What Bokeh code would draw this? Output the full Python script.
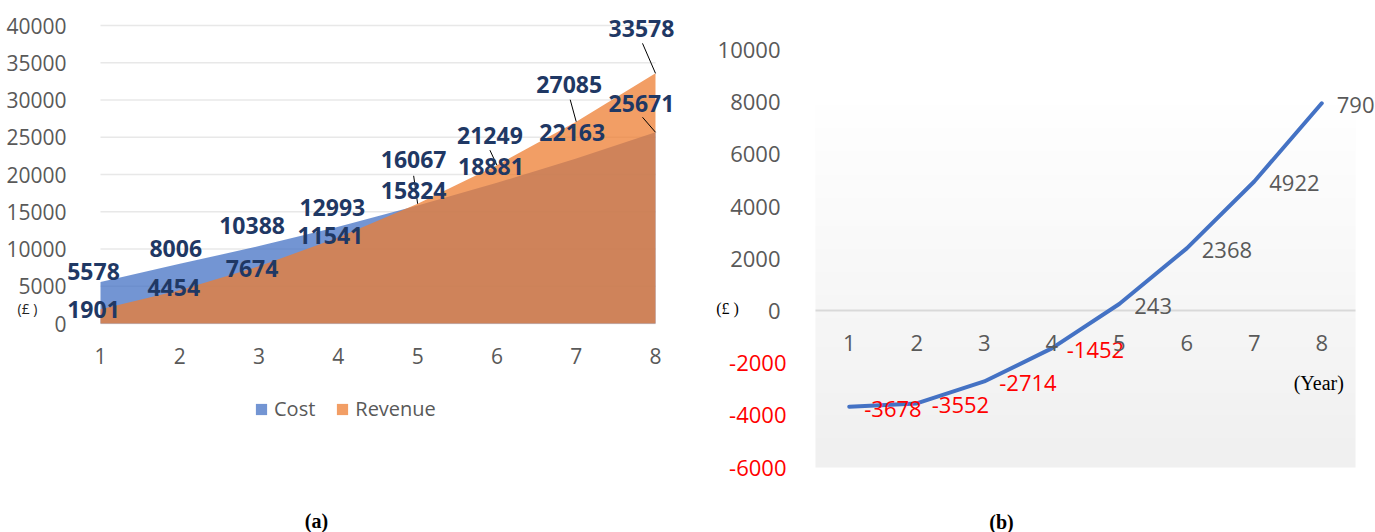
import numpy as np
from bokeh.plotting import figure
from bokeh.models import (ColumnDataSource, LabelSet, Label, Legend, LegendItem,
                          FixedTicker, Range1d)
from bokeh.core.properties import value
from bokeh.layouts import row
from bokeh.embed import file_html
from bokeh.resources import INLINE

# ---------------- data ----------------
years = [1, 2, 3, 4, 5, 6, 7, 8]
cost = [5578, 8006, 10388, 12993, 15824, 18881, 22163, 25671]
revenue = [1901, 4454, 7674, 11541, 16067, 21249, 27085, 33578]
net_profit = [-3678, -3552, -2714, -1452, 243, 2368, 4922, 7907]
a_yticks = [0, 5000, 10000, 15000, 20000, 25000, 30000, 35000, 40000]
b_yticks = [-6000, -4000, -2000, 0, 2000, 4000, 6000, 8000, 10000]
series_names = ["Cost", "Revenue"]

GRAY = "#595959"
NAVY = "#1F3864"
FONT = "Open Sans"
SERIF = "Liberation Serif"
H = 532

# ---------------- panel (a) geometry (pixels inside the figure) ----------------
A_W = 708
A_X0_PX, A_X1_PX = 100, 655     # where x = 1 and x = 8 fall
A_Y0_PX, A_Y1_PX = 323, 25      # where y = 0 and y = 40000 fall (from top)
ax_u = (years[-1] - years[0]) / (A_X1_PX - A_X0_PX)
ay_u = (a_yticks[-1] - a_yticks[0]) / (A_Y0_PX - A_Y1_PX)
a_xr = Range1d(years[0] - A_X0_PX * ax_u, years[-1] + (A_W - A_X1_PX) * ax_u)
a_yr = Range1d(a_yticks[0] - (H - A_Y0_PX) * ay_u, a_yticks[-1] + A_Y1_PX * ay_u)

pa = figure(width=A_W, height=H, min_border=0, x_range=a_xr, y_range=a_yr,
            output_backend="svg", toolbar_location=None, tools="")
pa.outline_line_color = None
pa.background_fill_color = "white"
pa.border_fill_color = "white"
pa.xgrid.visible = False
pa.ygrid.visible = False

# gridlines spanning the category extent only
pa.segment(x0=[years[0]] * len(a_yticks), y0=a_yticks, x1=[years[-1]] * len(a_yticks),
           y1=a_yticks, line_color="#e8e8e8", line_width=1.5)

src_a = ColumnDataSource(dict(x=years, cost=cost, revenue=revenue))
r_cost = pa.varea(x="x", y1=0, y2="cost", source=src_a, fill_color="#4472C4", fill_alpha=0.75)
r_rev = pa.varea(x="x", y1=0, y2="revenue", source=src_a, fill_color="#ED7D31", fill_alpha=0.75)

pa.xaxis.ticker = FixedTicker(ticks=years)
pa.yaxis.ticker = FixedTicker(ticks=a_yticks)
pa.xaxis.fixed_location = a_yticks[0]
pa.yaxis.fixed_location = years[0]
for ax in (pa.xaxis[0], pa.yaxis[0]):
    ax.axis_line_color = None
    ax.major_tick_line_color = None
    ax.minor_tick_line_color = None
    ax.major_label_text_font = FONT
    ax.major_label_text_font_size = "21px"
    ax.major_label_text_color = GRAY
pa.xaxis.major_label_standoff = 18
pa.yaxis.major_label_standoff = 28

# data labels: pixel offsets from each point
cost_dx = [-7, -4, -7, -6, -4, -6, -4, -14]
cost_dy = [10, 15, 21, 19, 15, 16, 26, 29]
rev_dx = [-7, -6, -7, -8, -4, -7, -7, -14]
rev_dy = [0, 3, -2, 2, 44, 30, 37, 45]

# leader lines (start offset in px from the point)
lead = [("rev", 4, -4, 28), ("rev", 5, -7, 15), ("rev", 6, -6, 22),
        ("rev", 7, -13, 30), ("cost", 7, -13, 15)]
lx0, ly0, lx1, ly1 = [], [], [], []
for s, i, dx, dy in lead:
    v = revenue[i] if s == "rev" else cost[i]
    lx1.append(years[i]); ly1.append(v)
    lx0.append(years[i] + dx * ax_u); ly0.append(v + dy * ay_u)
pa.segment(x0=lx0, y0=ly0, x1=lx1, y1=ly1, line_color="black", line_width=1)

lab_cost = ColumnDataSource(dict(x=years, y=cost, t=[str(v) for v in cost], dx=cost_dx, dy=cost_dy))
lab_rev = ColumnDataSource(dict(x=years, y=revenue, t=[str(v) for v in revenue], dx=rev_dx, dy=rev_dy))
for s in (lab_cost, lab_rev):
    pa.add_layout(LabelSet(x="x", y="y", text="t", x_offset="dx", y_offset="dy", source=s,
                           text_align="center", text_baseline="middle",
                           text_font=value(FONT), text_font_size=value("23px"),
                           text_font_style="bold", text_color=NAVY))

LEG_LEFT_PX, LEG_MID_PX, LEG_H = 254, 409, 26
legend = Legend(items=[LegendItem(label=series_names[0], renderers=[r_cost]),
                       LegendItem(label=series_names[1], renderers=[r_rev])],
                orientation="horizontal",
                location=(LEG_LEFT_PX, H - LEG_MID_PX - LEG_H // 2),
                glyph_width=14, glyph_height=14, label_standoff=6, spacing=20,
                padding=0, margin=0, border_line_color=None, background_fill_alpha=0,
                label_text_font=FONT, label_text_font_size="20px", label_text_color=GRAY)
pa.add_layout(legend)

pa.add_layout(Label(x=years[0], y=0, x_offset=-73, y_offset=15, text="(£ )",
                    text_align="center", text_baseline="middle",
                    text_font=FONT, text_font_size="14px", text_color="#222222"))
pa.add_layout(Label(x=years[0], y=0, x_offset=216, y_offset=-197, text="(a)",
                    text_align="center", text_baseline="middle",
                    text_font=SERIF, text_font_size="20px", text_font_style="bold",
                    text_color="black"))

# ---------------- panel (b) geometry ----------------
B_W = 667
B_L_PX, B_R_PX = 107, 647        # where x = 0.5 and x = 8.5 fall
B_T_PX, B_B_PX = 48, 467         # where y = 10000 and y = -6000 fall
B_XL, B_XR = 0.5, 8.5
B_BG_TOP = 8000
bx_u = (B_XR - B_XL) / (B_R_PX - B_L_PX)
by_u = (b_yticks[-1] - b_yticks[0]) / (B_B_PX - B_T_PX)
b_xr = Range1d(B_XL - B_L_PX * bx_u, B_XR + (B_W - B_R_PX) * bx_u)
b_yr = Range1d(b_yticks[0] - (H - B_B_PX) * by_u, b_yticks[-1] + B_T_PX * by_u)

pb = figure(width=B_W, height=H, min_border=0, x_range=b_xr, y_range=b_yr,
            output_backend="svg", toolbar_location=None, tools="")
pb.outline_line_color = None
pb.background_fill_color = "white"
pb.border_fill_color = "white"
pb.xgrid.visible = False
pb.ygrid.visible = False
pb.xaxis.visible = False

# gradient plot-area background
N = 64
img = np.empty((N, 1), dtype=np.uint32)
view = img.view(dtype=np.uint8).reshape((N, 1, 4))
g = np.linspace(240, 255, N).astype(np.uint8)
view[:, 0, 0] = g
view[:, 0, 1] = g
view[:, 0, 2] = g
view[:, 0, 3] = 255
pb.image_rgba(image=[img], x=B_XL, y=b_yticks[0], dw=B_XR - B_XL, dh=B_BG_TOP - b_yticks[0])

# zero line
pb.segment(x0=[B_XL], y0=[0], x1=[B_XR], y1=[0], line_color="#d9d9d9", line_width=2)

pb.yaxis.ticker = FixedTicker(ticks=b_yticks)
pb.yaxis.fixed_location = B_XL
pb.yaxis.axis_line_color = None
pb.yaxis.major_tick_line_color = None
pb.yaxis.minor_tick_line_color = None
pb.yaxis.major_label_text_font = FONT
pb.yaxis.major_label_text_font_size = "22px"
pb.yaxis.major_label_text_color = GRAY
pb.yaxis.major_label_standoff = 29
pb.yaxis.major_label_overrides = {t: " " for t in b_yticks if t < 0}

neg_ticks = [t for t in b_yticks if t < 0]
pb.add_layout(LabelSet(x="x", y="y", text="t", x_offset=-29,
                       source=ColumnDataSource(dict(x=[B_XL] * len(neg_ticks), y=neg_ticks,
                                                    t=[str(t) for t in neg_ticks])),
                       text_align="right", text_baseline="middle",
                       text_font=value(FONT), text_font_size=value("22px"),
                       text_color="#FF0000"))

pb.line(years, net_profit, line_color="#4472C4", line_width=4, line_join="round", line_cap="round")

pb.add_layout(LabelSet(x="x", y="y", text="t", x_offset=15, y_offset=-2,
                       source=ColumnDataSource(dict(x=years, y=net_profit,
                                                    t=[str(v) for v in net_profit],
                                                    c=["#FF0000" if v < 0 else GRAY for v in net_profit])),
                       text_align="left", text_baseline="middle",
                       text_font=value(FONT), text_font_size=value("22px"), text_color="c"))

pb.add_layout(LabelSet(x="x", y="y", text="t", y_offset=-33,
                       source=ColumnDataSource(dict(x=years, y=[0] * len(years),
                                                    t=[str(y) for y in years])),
                       text_align="center", text_baseline="middle",
                       text_font=value(FONT), text_font_size=value("22px"), text_color=GRAY))

pb.add_layout(Label(x=B_XL, y=0, x_offset=-88, y_offset=2, text="(£ )",
                    text_align="center", text_baseline="middle",
                    text_font=SERIF, text_font_size="16px", text_color="black"))
pb.add_layout(Label(x=years[-1], y=0, x_offset=-3, y_offset=-73, text="(Year)",
                    text_align="center", text_baseline="middle",
                    text_font=SERIF, text_font_size="20px", text_color="black"))
pb.add_layout(Label(x=B_XL, y=b_yticks[0], x_offset=186, y_offset=-54, text="(b)",
                    text_align="center", text_baseline="middle",
                    text_font=SERIF, text_font_size="20px", text_font_style="bold",
                    text_color="black"))

layout = row(pa, pb)
open("out.html", "w").write(file_html(layout, INLINE))
